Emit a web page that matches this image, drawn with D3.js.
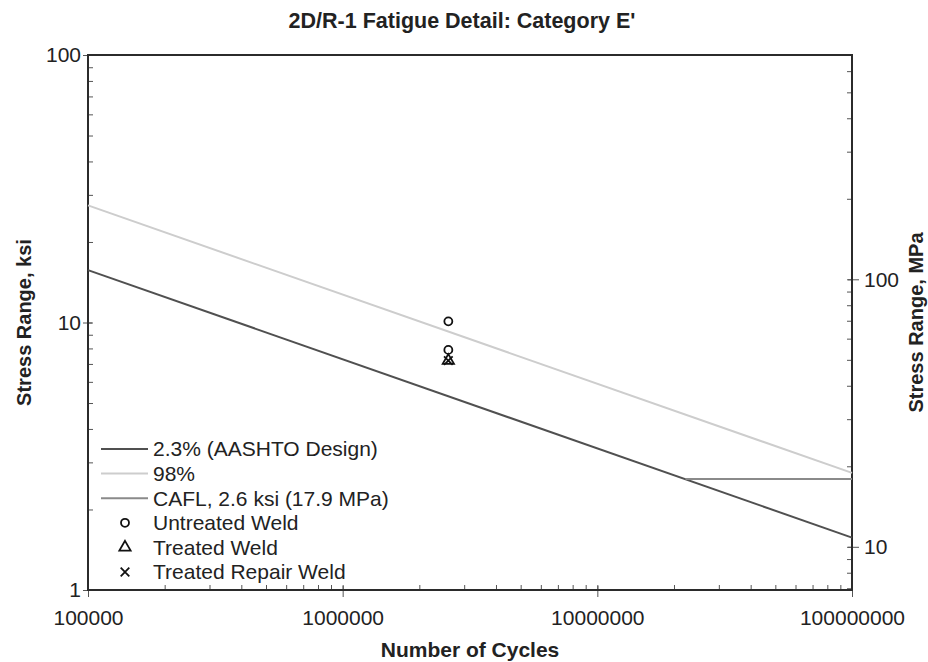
<!DOCTYPE html>
<html>
<head>
<meta charset="utf-8">
<script src="https://cdn.jsdelivr.net/npm/d3@7"></script>
<style>
  body { margin: 0; background: #fff; }
  svg { display: block; font-family: "Liberation Sans", Arial, sans-serif; }
</style>
</head>
<body>
<svg id="chart" width="928" height="662"></svg>
<script>
// values
const lineCycles = [100000, 100000000];
const aashtoDesign = [15.7, 1.57];   // 2.3% (AASHTO Design)
const upper98 = [27.4, 2.74];        // 98%
const caflCycles = [22200000, 100000000];
const caflStress = [2.6, 2.6];
const untreatedCycles = [2600000, 2600000];
const untreatedStress = [10.1, 7.9];
const treatedCycles = [2600000];
const treatedStress = [7.2];
const repairCycles = [2600000];
const repairStress = [7.2];

const xTicks = [100000, 1000000, 10000000, 100000000];
const yTicks = [1, 10, 100];
const mpaTicks = [10, 100];
const legendLabels = ["2.3% (AASHTO Design)", "98%", "CAFL, 2.6 ksi (17.9 MPa)",
                      "Untreated Weld", "Treated Weld", "Treated Repair Weld"];

const pLeft = 88, pRight = 852, pTop = 55, pBottom = 590;
const svg = d3.select("#chart");

const x = d3.scaleLog().domain([1e5, 1e8]).range([pLeft, pRight]);
const y = d3.scaleLog().domain([1, 100]).range([pBottom, pTop]);
const yMpa = d3.scaleLog().domain([6.895, 689.5]).range([pBottom, pTop]);

// minor tick values for each decade
function minors(lo, hi) {
  let out = [];
  for (let p = lo; p < hi; p *= 10) {
    for (let k = 1; k <= 9; k++) out.push(p * k);
  }
  return out;
}
const frameColor = "#2b2b2b";

// minor ticks (inside the frame)
svg.append("g").attr("transform", `translate(0,${pBottom})`)
  .call(d3.axisTop(x).tickValues(minors(1e5, 1e8).filter(v => v > 1e5)).tickSize(5).tickFormat(""))
  .call(g => g.select(".domain").remove());
svg.append("g").attr("transform", `translate(${pLeft},0)`)
  .call(d3.axisRight(y).tickValues(minors(1, 100).filter(v => v > 1)).tickSize(5).tickFormat(""))
  .call(g => g.select(".domain").remove());
svg.append("g").attr("transform", `translate(${pRight},0)`)
  .call(d3.axisLeft(yMpa).tickValues(minors(1, 1000).filter(v => v > 6.9 && v < 689)).tickSize(5).tickFormat(""))
  .call(g => g.select(".domain").remove());

// major ticks with labels
const xAxis = svg.append("g").attr("transform", `translate(0,${pBottom})`)
  .call(d3.axisBottom(x).tickValues(xTicks).tickSize(7).tickPadding(13).tickFormat(d3.format("d")));
const yAxis = svg.append("g").attr("transform", `translate(${pLeft},0)`)
  .call(d3.axisLeft(y).tickValues(yTicks).tickSize(5).tickPadding(2).tickFormat(d3.format("d")));
const mAxis = svg.append("g").attr("transform", `translate(${pRight},0)`)
  .call(d3.axisRight(yMpa).tickValues(mpaTicks).tickSize(7).tickPadding(5).tickFormat(d3.format("d")));

[xAxis, yAxis, mAxis].forEach(g => {
  g.select(".domain").remove();
  g.selectAll("text").attr("font-size", 21).attr("fill", "#222");
});
// major ticks cross the frame a little
xAxis.selectAll("line").attr("y1", -4);
yAxis.selectAll("line").attr("x1", 4);
mAxis.selectAll("line").attr("x1", -4);
svg.selectAll(".tick line").attr("stroke", "#555").attr("stroke-width", 1);

// frame
svg.append("rect")
  .attr("x", pLeft).attr("y", pTop)
  .attr("width", pRight - pLeft).attr("height", pBottom - pTop)
  .attr("fill", "none").attr("stroke", frameColor).attr("stroke-width", 2);

const line = d3.line().x(d => x(d[0])).y(d => y(d[1]));

svg.append("path").datum(d3.zip(lineCycles, upper98))
  .attr("d", line).attr("fill", "none").attr("stroke", "#cdcdcd").attr("stroke-width", 2);
svg.append("path").datum(d3.zip(lineCycles, aashtoDesign))
  .attr("d", line).attr("fill", "none").attr("stroke", "#505050").attr("stroke-width", 2);
svg.append("path").datum(d3.zip(caflCycles, caflStress))
  .attr("d", line).attr("fill", "none").attr("stroke", "#8a8a8a").attr("stroke-width", 2);

// markers
const sym = {
  circle: d3.symbol().type(d3.symbolCircle).size(50),
  triangle: d3.symbol().type(d3.symbolTriangle).size(55),
  cross: d3.symbol().type(d3.symbolTimes).size(50)
};
function drawPoints(xs, ys, s) {
  svg.append("g").selectAll("path").data(d3.zip(xs, ys)).join("path")
    .attr("transform", d => `translate(${x(d[0])},${y(d[1])})`)
    .attr("d", s).attr("fill", "none").attr("stroke", "#111").attr("stroke-width", 1.8);
}
drawPoints(untreatedCycles, untreatedStress, sym.circle);
drawPoints(treatedCycles, treatedStress, sym.triangle);
drawPoints(repairCycles, repairStress, sym.cross);

// legend
const legendColors = ["#505050", "#cdcdcd", "#8a8a8a"];
const legendSyms = [null, null, null, sym.circle, sym.triangle, sym.cross];
const lg = svg.append("g");
legendLabels.forEach((t, i) => {
  const ly = 449 + i * 24.6;
  if (i < 3) {
    lg.append("line").attr("x1", 101).attr("x2", 148).attr("y1", ly).attr("y2", ly)
      .attr("stroke", legendColors[i]).attr("stroke-width", 2);
  } else {
    lg.append("path").attr("transform", `translate(125,${ly})`).attr("d", legendSyms[i])
      .attr("fill", "none").attr("stroke", "#111").attr("stroke-width", 1.8);
  }
  lg.append("text").attr("x", 153).attr("y", ly).attr("dy", "0.35em")
    .attr("font-size", 21).attr("fill", "#222").text(t);
});

// titles
svg.append("text").attr("x", 462).attr("y", 28).attr("text-anchor", "middle")
  .attr("font-size", 21.5).attr("font-weight", "bold").attr("fill", "#222")
  .text("2D/R-1 Fatigue Detail: Category E'");
svg.append("text").attr("x", 470).attr("y", 657).attr("text-anchor", "middle")
  .attr("font-size", 21).attr("font-weight", "bold").attr("fill", "#222")
  .text("Number of Cycles");
svg.append("text").attr("transform", `translate(31,${(pTop + pBottom) / 2}) rotate(-90)`)
  .attr("text-anchor", "middle")
  .attr("font-size", 20).attr("font-weight", "bold").attr("fill", "#222")
  .text("Stress Range, ksi");
svg.append("text").attr("transform", `translate(923,${(pTop + pBottom) / 2}) rotate(-90)`)
  .attr("text-anchor", "middle")
  .attr("font-size", 20).attr("font-weight", "bold").attr("fill", "#222")
  .text("Stress Range, MPa");
</script>
</body>
</html>
